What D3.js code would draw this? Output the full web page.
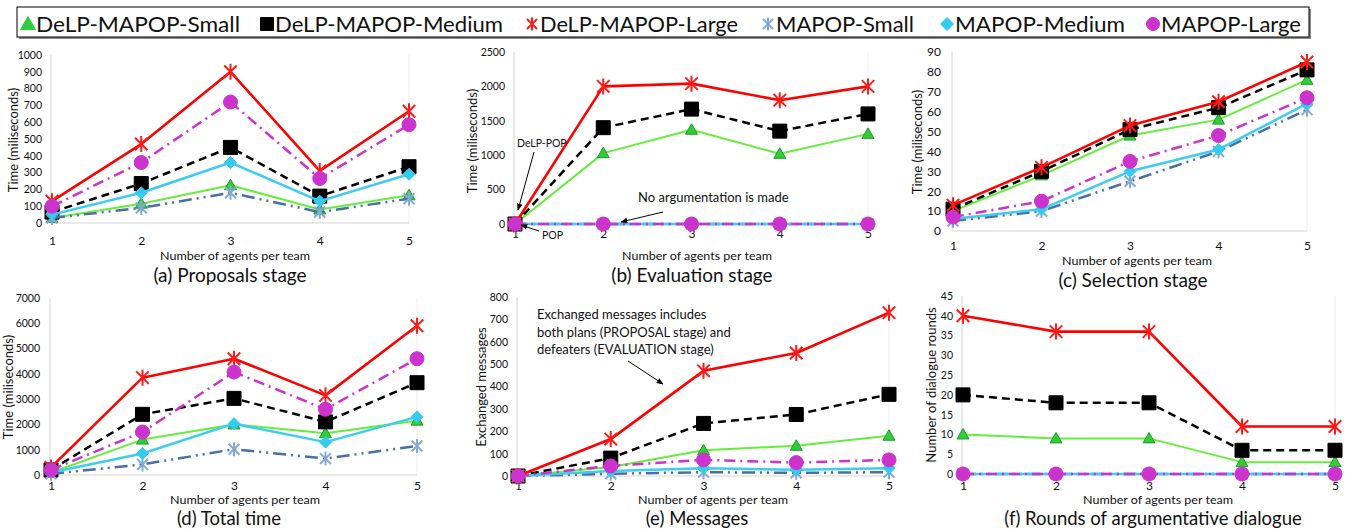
<!DOCTYPE html>
<html><head><meta charset="utf-8">
<script src="https://cdn.jsdelivr.net/npm/d3@7"></script>
<style>
body{margin:0;background:#fff}
svg{display:block}
text{font-family:Lato,"Open Sans",sans-serif;fill:#111}
</style>
</head><body>
<svg id="c" width="1351" height="529"></svg>
<script>
// ---------------- DATA ----------------
const categories = [1, 2, 3, 4, 5];
const seriesNames = ["DeLP-MAPOP-Small", "DeLP-MAPOP-Medium", "DeLP-MAPOP-Large", "MAPOP-Small", "MAPOP-Medium", "MAPOP-Large"];

// each row follows seriesNames order
const proposalsValues = [
  [30, 115, 225, 80, 165],
  [65, 235, 450, 160, 335],
  [130, 470, 900, 310, 665],
  [30, 90, 180, 65, 145],
  [50, 180, 360, 130, 290],
  [100, 360, 720, 265, 585]
];
const evaluationValues = [
  [0, 1030, 1370, 1020, 1310],
  [0, 1400, 1670, 1350, 1600],
  [0, 2000, 2040, 1800, 2000],
  [0, 0, 0, 0, 0],
  [0, 0, 0, 0, 0],
  [0, 0, 0, 0, 0]
];
const selectionValues = [
  [10, 28, 48, 56, 76],
  [11, 30, 51, 62, 81],
  [13, 32, 53, 65, 85],
  [5, 10, 25, 40, 61],
  [6, 11, 30, 41, 64],
  [7, 15, 35, 48, 67]
];
const totalValues = [
  [100, 1400, 2000, 1650, 2150],
  [200, 2400, 3030, 2100, 3650],
  [300, 3850, 4600, 3150, 5900],
  [50, 420, 1020, 650, 1150],
  [100, 850, 2030, 1300, 2300],
  [200, 1700, 4070, 2600, 4600]
];
const messagesValues = [
  [0, 40, 115, 135, 180],
  [0, 80, 235, 275, 365],
  [0, 165, 470, 550, 730],
  [0, 10, 17, 14, 17],
  [0, 22, 35, 28, 35],
  [0, 45, 72, 60, 72]
];
const roundsValues = [
  [10, 9, 9, 3, 3],
  [20, 18, 18, 6, 6],
  [40, 36, 36, 12, 12],
  [0, 0, 0, 0, 0],
  [0, 0, 0, 0, 0],
  [0, 0, 0, 0, 0]
];

const proposalsTicks = [0, 100, 200, 300, 400, 500, 600, 700, 800, 900, 1000];
const evaluationTicks = [0, 500, 1000, 1500, 2000, 2500];
const selectionTicks = [0, 10, 20, 30, 40, 50, 60, 70, 80, 90];
const totalTicks = [0, 1000, 2000, 3000, 4000, 5000, 6000, 7000];
const messagesTicks = [0, 100, 200, 300, 400, 500, 600, 700, 800];
const roundsTicks = [0, 5, 10, 15, 20, 25, 30, 35, 40, 45];

const xTitle = "Number of agents per team";
const panelTitles = ["(a) Proposals stage", "(b) Evaluation stage", "(c) Selection stage",
  "(d) Total time", "(e) Messages", "(f) Rounds of argumentative dialogue"];
const yTitles = ["Time (miliseconds)", "Time (miliseconds)", "Time (miliseconds)",
  "Time (miliseconds)", "Exchanged messages", "Number of dialogue rounds"];

// ---------------- STYLES ----------------
const styles = [
  {line: "#66ee3c", width: 2, dash: null, marker: "triangle", fill: "#33cc33", stroke: "#1f9a3a", size: 12},
  {line: "#000000", width: 2.5, dash: "8,5", marker: "square", fill: "#000000", stroke: "#000000", size: 14},
  {line: "#ff0000", width: 2.6, dash: null, marker: "star", fill: "none", stroke: "#ff1a1a", size: 16},
  {line: "#4a6fa5", width: 2.5, dash: "13,5,2,5,2,5", marker: "star", fill: "none", stroke: "#86a8d8", size: 14},
  {line: "#3ccdf0", width: 2.5, dash: null, marker: "diamond", fill: "#33ccee", stroke: "#33ccee", size: 12},
  {line: "#cc33cc", width: 2.5, dash: "11,5,2,5", marker: "circle", fill: "#cc33cc", stroke: "#cc33cc", size: 14}
];

function markerPath(type, s) {
  const h = s / 2, p = d3.path();
  if (type === "triangle") {
    p.moveTo(0, -h); p.lineTo(h, h * 0.75); p.lineTo(-h, h * 0.75); p.closePath();
  } else if (type === "square") {
    p.rect(-h, -h, s, s);
  } else if (type === "diamond") {
    p.moveTo(0, -h); p.lineTo(h, 0); p.lineTo(0, h); p.lineTo(-h, 0); p.closePath();
  } else if (type === "circle") {
    p.arc(0, 0, h, 0, 2 * Math.PI);
  } else if (type === "star") {
    const d = h * 0.78;
    p.moveTo(0, -h); p.lineTo(0, h);
    p.moveTo(-d, -d); p.lineTo(d, d);
    p.moveTo(-d, d); p.lineTo(d, -d);
  }
  return p.toString();
}

const svg = d3.select("#c");
const defs = svg.append("defs");
defs.append("marker").attr("id", "arr").attr("viewBox", "0 0 10 10").attr("refX", 9).attr("refY", 5)
  .attr("markerWidth", 7).attr("markerHeight", 7).attr("orient", "auto-start-reverse")
  .append("path").attr("d", "M0,1 L10,5 L0,9 z").attr("fill", "#000");

// ---------------- LAYOUT ----------------
const layouts = [
  {x1: 52, x5: 409, y0: 223, yTop: 55, labelRight: 42, tickFont: 10.5, xTickBase: 245,
   xTitleX: 235, xTitleBase: 260, subX: 230, subBase: 282, subFont: 19, yTitleX: 18, yTitleY: 140},
  {x1: 515, x5: 868, y0: 224, yTop: 52, labelRight: 505, tickFont: 10.5, xTickBase: 238,
   xTitleX: 697, xTitleBase: 260, subX: 692, subBase: 282, subFont: 19, yTitleX: 477, yTitleY: 141},
  {x1: 953, x5: 1307, y0: 231, yTop: 52, labelRight: 941, tickFont: 12, xTickBase: 250,
   xTitleX: 1137, xTitleBase: 265, subX: 1133, subBase: 286.5, subFont: 19, yTitleX: 922, yTitleY: 142},
  {x1: 51, x5: 417, y0: 475, yTop: 298, labelRight: 40, tickFont: 10.5, xTickBase: 489.5,
   xTitleX: 245, xTitleBase: 504, subX: 229, subBase: 525, subFont: 18.5, yTitleX: 12.5, yTitleY: 387},
  {x1: 518, x5: 889, y0: 476, yTop: 297, labelRight: 508, tickFont: 10.5, xTickBase: 489.5,
   xTitleX: 713, xTitleBase: 504, subX: 697, subBase: 525, subFont: 18.5, yTitleX: 486, yTitleY: 387},
  {x1: 963, x5: 1335, y0: 474, yTop: 296, labelRight: 953, tickFont: 10.5, xTickBase: 489.5,
   xTitleX: 1158, xTitleBase: 504, subX: 1153, subBase: 525, subFont: 18.5, yTitleX: 936, yTitleY: 385}
];
const xTickFont = 12, xTitleFont = 12, xTitleWidth = 150, yTitleFont = 13;

const panelValues = [proposalsValues, evaluationValues, selectionValues, totalValues, messagesValues, roundsValues];
const panelTicks = [proposalsTicks, evaluationTicks, selectionTicks, totalTicks, messagesTicks, roundsTicks];

function drawPanel(i) {
  const L = layouts[i], values = panelValues[i], ticks = panelTicks[i];
  const x = d3.scaleLinear().domain([1, 5]).range([L.x1, L.x5]);
  const y = d3.scaleLinear().domain([0, d3.max(ticks)]).range([L.y0, L.yTop]);
  const g = svg.append("g");

  // plot area lines
  g.append("line").attr("x1", L.x1 - 1).attr("x2", L.x1 - 1).attr("y1", y(0)).attr("y2", y(d3.max(ticks)))
    .attr("stroke", "#d4d4d4").attr("stroke-width", 1);
  g.append("line").attr("x1", L.x5).attr("x2", L.x5).attr("y1", y(0)).attr("y2", y(d3.max(ticks)))
    .attr("stroke", "#efefef").attr("stroke-width", 1);
  g.append("line").attr("x1", L.x1 - 1).attr("x2", L.x5).attr("y1", y(0)).attr("y2", y(0))
    .attr("stroke", "#d4d4d4").attr("stroke-width", 1);

  // y axis labels
  const ya = g.append("g").attr("transform", `translate(${L.labelRight},0)`)
    .call(d3.axisLeft(y).tickValues(ticks).tickSize(0).tickPadding(0).tickFormat(d3.format("d")));
  ya.select(".domain").remove();
  ya.selectAll("text").attr("font-size", L.tickFont).attr("font-family", "Lato").attr("fill", "#222");

  // x axis labels
  const xa = g.append("g").attr("transform", `translate(0,${L.xTickBase})`)
    .call(d3.axisBottom(x).tickValues(categories).tickSize(0).tickPadding(0).tickFormat(d3.format("d")));
  xa.select(".domain").remove();
  xa.selectAll("text").attr("dy", null).attr("y", 0).attr("font-size", xTickFont)
    .attr("font-family", "Lato").attr("fill", "#222");

  // titles
  g.append("text").attr("x", L.xTitleX).attr("y", L.xTitleBase).attr("text-anchor", "middle")
    .attr("font-size", xTitleFont).attr("textLength", xTitleWidth).attr("lengthAdjust", "spacingAndGlyphs")
    .text(xTitle);
  g.append("text").attr("x", L.subX).attr("y", L.subBase).attr("text-anchor", "middle")
    .attr("font-size", L.subFont).text(panelTitles[i]);
  g.append("text").attr("transform", `translate(${L.yTitleX},${L.yTitleY}) rotate(-90)`)
    .attr("text-anchor", "middle").attr("font-size", yTitleFont).text(yTitles[i]);

  // series
  const line = d3.line().x((d, j) => x(categories[j])).y(d => y(d));
  values.forEach((vals, s) => {
    const st = styles[s];
    g.append("path").attr("d", line(vals)).attr("fill", "none").attr("stroke", st.line)
      .attr("stroke-width", st.width).attr("stroke-dasharray", st.dash).attr("stroke-linejoin", "round");
    g.selectAll(null).data(vals).enter().append("path")
      .attr("transform", (d, j) => `translate(${x(categories[j])},${y(d)})`)
      .attr("d", markerPath(st.marker, st.size))
      .attr("fill", st.fill).attr("stroke", st.stroke)
      .attr("stroke-width", st.marker === "star" ? 2 : 1);
  });
}

for (let i = 0; i < 6; i++) drawPanel(i);

// ---------------- ANNOTATIONS ----------------
function arrow(x1, y1, x2, y2) {
  svg.append("line").attr("x1", x1).attr("y1", y1).attr("x2", x2).attr("y2", y2)
    .attr("stroke", "#000").attr("stroke-width", 1).attr("marker-end", "url(#arr)");
}
svg.append("text").attr("x", 517).attr("y", 147).attr("font-size", 10.5).text("DeLP-POP");
arrow(534, 152, 518, 210);
svg.append("text").attr("x", 542).attr("y", 239).attr("font-size", 10.5).text("POP");
arrow(539, 231, 521, 225);
svg.append("text").attr("x", 638).attr("y", 202).attr("font-size", 13).text("No argumentation is made");
arrow(663, 212, 621, 222);

const noteLines = ["Exchanged messages includes", "both plans (PROPOSAL stage) and", "defeaters (EVALUATION stage)"];
svg.append("g").selectAll("text").data(noteLines).enter().append("text")
  .attr("x", 537).attr("y", (d, i) => 319 + i * 17.5).attr("font-size", 13).text(d => d);
arrow(628, 361, 663, 384);

// ---------------- LEGEND ----------------
const legendBox = {x: 17, y: 7, w: 1292, h: 30};
const legendMarkerX = [28, 267, 532, 768, 947, 1153];
const legendTextW = [204, 228, 198, 138, 170, 140];
const lg = svg.append("g");
lg.append("rect").attr("x", legendBox.x + 2).attr("y", legendBox.y + 2).attr("width", legendBox.w)
  .attr("height", legendBox.h).attr("fill", "#8c8c8c");
lg.append("rect").attr("x", legendBox.x).attr("y", legendBox.y).attr("width", legendBox.w)
  .attr("height", legendBox.h).attr("fill", "#fff").attr("stroke", "#000").attr("stroke-width", 1);
seriesNames.forEach((name, s) => {
  const st = styles[s];
  lg.append("path").attr("transform", `translate(${legendMarkerX[s]},${legendBox.y + 17})`)
    .attr("d", markerPath(st.marker, st.marker === "triangle" ? 15 : 13))
    .attr("fill", st.marker === "triangle" ? "#2ecc40" : st.fill)
    .attr("stroke", st.marker === "triangle" ? "#2ecc40" : st.stroke)
    .attr("stroke-width", st.marker === "star" ? 2 : 1);
  lg.append("text").attr("x", legendMarkerX[s] + 8).attr("y", 32).attr("font-size", 21.5)
    .attr("font-family", "Lato").attr("textLength", legendTextW[s]).attr("lengthAdjust", "spacingAndGlyphs")
    .text(name);
});
</script>
</body></html>
